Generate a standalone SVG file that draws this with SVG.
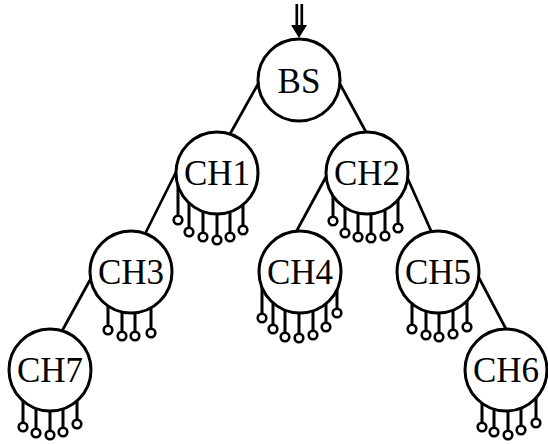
<svg xmlns="http://www.w3.org/2000/svg" width="548" height="444" viewBox="0 0 548 444">
<style>
.edge{stroke:#000;stroke-width:2.7;fill:none}
.stem{stroke:#000;stroke-width:3}
.ch{fill:#fff;stroke:#000;stroke-width:3}
.s{fill:#fff;stroke:#000;stroke-width:2.6}
.t{font-family:"Liberation Serif","Times New Roman",serif;font-size:35px;text-anchor:middle;fill:#000}
</style>
<rect width="548" height="444" fill="#fff"/>
<g id="connectors">
<line class="edge" x1="296.8" y1="4" x2="296.8" y2="27"/>
<line class="edge" x1="301.8" y1="4" x2="301.8" y2="27"/>
<polygon points="291,25 307,25 299,38" fill="#000"/>
<line class="edge" x1="258" y1="84" x2="230" y2="134"/>
<line class="edge" x1="340" y1="84" x2="366" y2="132"/>
<line class="edge" x1="177" y1="170" x2="145" y2="234"/>
<line class="edge" x1="327" y1="175" x2="296" y2="232"/>
<line class="edge" x1="407" y1="177" x2="432" y2="233"/>
<line class="edge" x1="90" y1="280" x2="62" y2="331"/>
<line class="edge" x1="478" y1="276" x2="506" y2="329"/>
</g>
<g id="BS">
<circle class="ch" cx="299" cy="80" r="41"/>
<text class="t" x="299" y="93">BS</text>
</g>
<g id="CH1">
<path class="stem" d="M178 173V215.5M189 173V227.5M203 173V232.5M217 173V235.5M230 173V232.5M243 173V225.5"/>
<circle class="ch" cx="217" cy="173" r="41"/>
<circle class="s" cx="178" cy="220" r="4.3"/><circle class="s" cx="189" cy="232" r="4.3"/><circle class="s" cx="203" cy="237" r="4.3"/><circle class="s" cx="217" cy="240" r="4.3"/><circle class="s" cx="230" cy="237" r="4.3"/><circle class="s" cx="243" cy="230" r="4.3"/>
<text class="t" x="217" y="185">CH1</text>
</g>
<g id="CH2">
<path class="stem" d="M333 173V216.5M345 173V228.5M358 173V232.5M371 173V233.5M385 173V231.5M398 173V223.5"/>
<circle class="ch" cx="367" cy="173" r="41"/>
<circle class="s" cx="333" cy="221" r="4.3"/><circle class="s" cx="345" cy="233" r="4.3"/><circle class="s" cx="358" cy="237" r="4.3"/><circle class="s" cx="371" cy="238" r="4.3"/><circle class="s" cx="385" cy="236" r="4.3"/><circle class="s" cx="398" cy="228" r="4.3"/>
<text class="t" x="367" y="185">CH2</text>
</g>
<g id="CH3">
<path class="stem" d="M108 272V325.5M122 272V331.5M135 272V331.5M151 272V328.5"/>
<circle class="ch" cx="131" cy="272" r="41"/>
<circle class="s" cx="108" cy="330" r="4.3"/><circle class="s" cx="122" cy="336" r="4.3"/><circle class="s" cx="135" cy="336" r="4.3"/><circle class="s" cx="151" cy="333" r="4.3"/>
<text class="t" x="131" y="284">CH3</text>
</g>
<g id="CH4">
<path class="stem" d="M262 272V313.5M273 272V324.5M285 272V332.5M299 272V333.5M313 272V330.5M326 272V322.5M337 272V308.5"/>
<circle class="ch" cx="300" cy="272" r="41"/>
<circle class="s" cx="262" cy="318" r="4.3"/><circle class="s" cx="273" cy="329" r="4.3"/><circle class="s" cx="285" cy="337" r="4.3"/><circle class="s" cx="299" cy="338" r="4.3"/><circle class="s" cx="313" cy="335" r="4.3"/><circle class="s" cx="326" cy="327" r="4.3"/><circle class="s" cx="337" cy="313" r="4.3"/>
<text class="t" x="300" y="284">CH4</text>
</g>
<g id="CH5">
<path class="stem" d="M412 272V324.5M426 272V330.5M439 272V332.5M453 272V329.5M467 272V322.5"/>
<circle class="ch" cx="438" cy="272" r="41"/>
<circle class="s" cx="412" cy="329" r="4.3"/><circle class="s" cx="426" cy="335" r="4.3"/><circle class="s" cx="439" cy="337" r="4.3"/><circle class="s" cx="453" cy="334" r="4.3"/><circle class="s" cx="467" cy="327" r="4.3"/>
<text class="t" x="438" y="284">CH5</text>
</g>
<g id="CH7">
<path class="stem" d="M23 370V422.5M36 370V428.5M50 370V430.5M63 370V427.5M77 370V419.5"/>
<circle class="ch" cx="50" cy="370" r="41"/>
<circle class="s" cx="23" cy="427" r="4.3"/><circle class="s" cx="36" cy="433" r="4.3"/><circle class="s" cx="50" cy="435" r="4.3"/><circle class="s" cx="63" cy="432" r="4.3"/><circle class="s" cx="77" cy="424" r="4.3"/>
<text class="t" x="50" y="382">CH7</text>
</g>
<g id="CH6">
<path class="stem" d="M482 370V422.5M494 370V427.5M508 370V430.5M521 370V425.5M536 370V418.5"/>
<circle class="ch" cx="506" cy="370" r="41"/>
<circle class="s" cx="482" cy="427" r="4.3"/><circle class="s" cx="494" cy="432" r="4.3"/><circle class="s" cx="508" cy="435" r="4.3"/><circle class="s" cx="521" cy="430" r="4.3"/><circle class="s" cx="536" cy="423" r="4.3"/>
<text class="t" x="506" y="382">CH6</text>
</g>
</svg>
